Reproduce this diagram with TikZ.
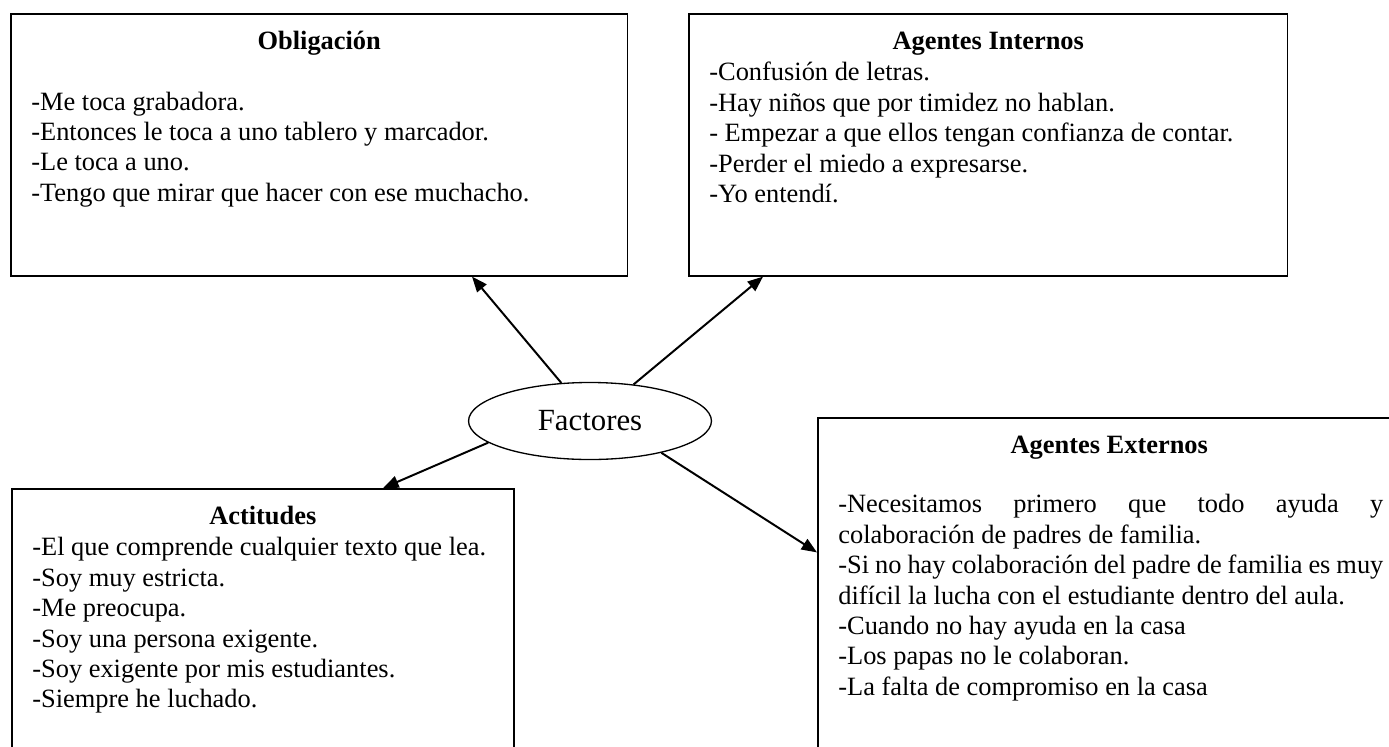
\documentclass[tikz,border=0pt]{standalone}
\usepackage{fontspec}
\setmainfont{Liberation Serif}
\usetikzlibrary{shapes.geometric, arrows.meta, positioning, calc}
\setlength{\parindent}{0pt}
\newcommand{\textsz}{\fontsize{12pt}{13.8pt}\selectfont}

\begin{document}
\begin{tikzpicture}[
    x=0.4545pt, y=-0.4545pt,   % one unit = one pixel of the sketch
    box/.style={rectangle, draw=black, line width=0.7pt, inner sep=0pt, anchor=north west},
    heading/.style={inner sep=0pt, font=\textsz\bfseries},
    items/.style={inner sep=0pt, text width=250pt, align=flush left, font=\textsz},
    factor/.style={ellipse, draw=black, line width=0.6pt, inner sep=0pt,
                   minimum width=110.4pt, minimum height=35pt,
                   font=\fontsize{14pt}{16pt}\selectfont},
    arrow/.style={-{Triangle[length=7pt,width=5.5pt]}, line width=0.9pt}
]
\useasboundingbox (0,0) rectangle (1389,746);

% the four boxes
\node[box, minimum width=280.4pt, minimum height=119.1pt] (oblig) at (10,13) {};
\node[box, minimum width=272.2pt, minimum height=119.1pt] (intern) at (688,13) {};
\node[box, minimum width=228.2pt, minimum height=128.2pt] (actit) at (11,488) {};
\node[box, minimum width=265pt, minimum height=160.4pt] (extern) at (817,417) {};

\node[factor] (fac) at (590,421) {Factores};

% headings
\node[heading, below=16.4pt of oblig.north, anchor=base] (obligtitle) {Obligación};
\node[heading, below=16.4pt of intern.north, anchor=base] (interntitle) {Agentes Internos};
\node[heading, below=16.4pt of actit.north, anchor=base] (actittitle) {Actitudes};
\node[heading, below=16.4pt of extern.north, anchor=base] (externtitle) {Agentes Externos};

% contents
\node[items, below right=44.1pt and 9.5pt of oblig.north west, anchor=base west] (obligtext)
    {-Me toca grabadora.\\
     -Entonces le toca a uno tablero y marcador.\\
     -Le toca a uno.\\
     -Tengo que mirar que hacer con ese muchacho.};
\node[items, below right=30.9pt and 9.5pt of intern.north west, anchor=base west] (interntext)
    {-Confusión de letras.\\
     -Hay niños que por timidez no hablan.\\
     - Empezar a que ellos tengan confianza de contar.\\
     -Perder el miedo a expresarse.\\
     -Yo entendí.};
\node[items, below right=30.9pt and 9.5pt of actit.north west, anchor=base west] (actittext)
    {-El que comprende cualquier texto que lea.\\
     -Soy muy estricta.\\
     -Me preocupa.\\
     -Soy una persona exigente.\\
     -Soy exigente por mis estudiantes.\\
     -Siempre he luchado.};
\node[items, text width=247.7pt, align=justify,
      below right=43.6pt and 9.5pt of extern.north west, anchor=base west] (externtext)
    {-Necesitamos primero que todo ayuda y\linebreak
     colaboración de padres de familia.\\
     -Si no hay colaboración del padre de familia es muy\linebreak
     difícil la lucha con el estudiante dentro del aula.\\
     -Cuando no hay ayuda en la casa\\
     -Los papas no le colaboran.\\
     -La falta de compromiso en la casa};

\draw[arrow] (fac.127) -- ($(oblig.south west)!0.747!(oblig.south east)$);
\draw[arrow] (fac.40) -- ($(intern.south west)!0.125!(intern.south east)$);
\draw[arrow] (fac.192) -- ($(actit.north west)!0.739!(actit.north east)$);
\draw[arrow] (fac.336) -- ($(extern.north west)!0.382!(extern.south west)$);

\end{tikzpicture}
\end{document}
